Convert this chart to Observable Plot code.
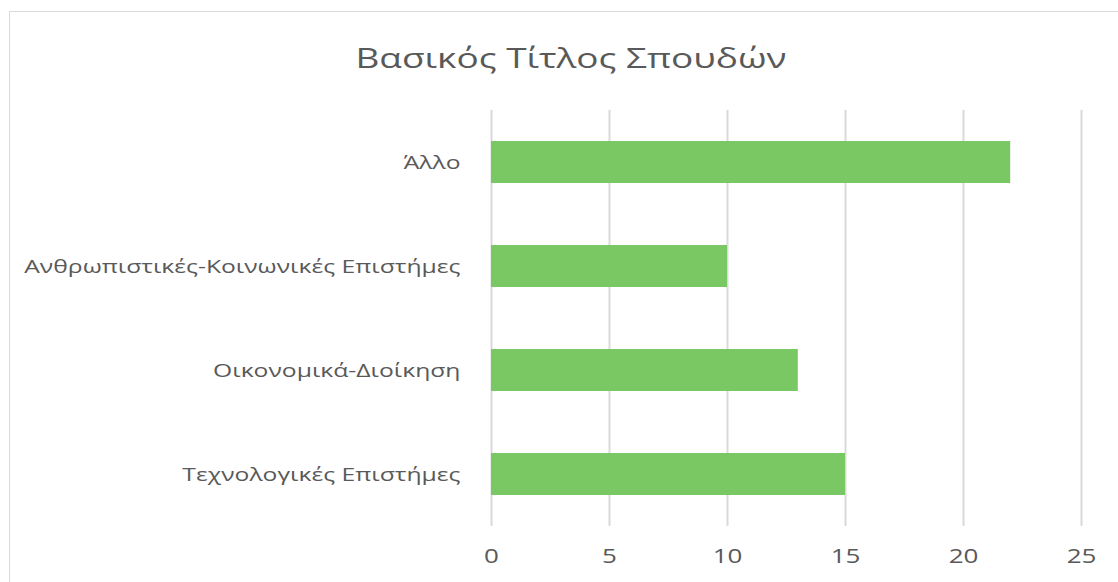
<!DOCTYPE html>
<html><head><meta charset="utf-8">
<script src="https://cdn.jsdelivr.net/npm/d3@7"></script>
<script src="https://cdn.jsdelivr.net/npm/@observablehq/plot@0.6"></script>
<style>
html,body{margin:0;padding:0;background:#fff;overflow:hidden;}
#wrap{position:relative;width:1118px;height:582px;}
#frame{position:absolute;left:9px;top:11px;width:1200px;height:700px;border:1px solid #d9d9d9;box-sizing:border-box;}
#title{position:absolute;left:9px;width:1124px;top:37px;text-align:center;font-family:"Open Sans";font-size:28px;color:#595959;line-height:40px;transform:scaleX(1.32);transform-origin:50% 50%;}
#chart{position:absolute;left:0;top:0;}
</style></head>
<body><div id="wrap"><div id="frame"></div><div id="title">Βασικός Τίτλος Σπουδών</div><div id="chart"></div></div>
<script>
const categories = ["Άλλο","Ανθρωπιστικές-Κοινωνικές Επιστήμες","Οικονομικά-Διοίκηση","Τεχνολογικές Επιστήμες"];
const values = [22,10,13,15];
const xTicks = [0,5,10,15,20,25];
const data = categories.map((c,i)=>({category:c,value:values[i]}));
const chart = Plot.plot({
  width:1118, height:582,
  marginTop:110, marginBottom:56, marginLeft:491, marginRight:37,
  style:{fontFamily:"Open Sans",fontSize:"19px",color:"#595959",background:"transparent"},
  x:{domain:[0,25],ticks:xTicks,tickSize:0,tickPadding:22,label:null},
  y:{domain:categories,paddingInner:0.6,paddingOuter:0.3,tickSize:0,tickPadding:31,label:null},
  marks:[
    Plot.gridX(xTicks,{stroke:"#d9d9d9",strokeOpacity:1,strokeWidth:2}),
    Plot.barX(data,{x:"value",y:"category",fill:"#7ac864"}),
    Plot.axisX({ticks:xTicks,tickSize:0,tickPadding:22,fontSize:20,fill:"#595959"}),
    Plot.axisY({tickSize:0,tickPadding:31,fontSize:19,fill:"#595959"})
  ]
});
chart.querySelectorAll('g[aria-label="y-axis tick label"] text, g[aria-label="x-axis tick label"] text').forEach(t => {
  const tr = t.getAttribute("transform") || "";
  t.setAttribute("transform", tr + " scale(1.3,1)");
});
document.getElementById("chart").appendChild(chart);
</script></body></html>
